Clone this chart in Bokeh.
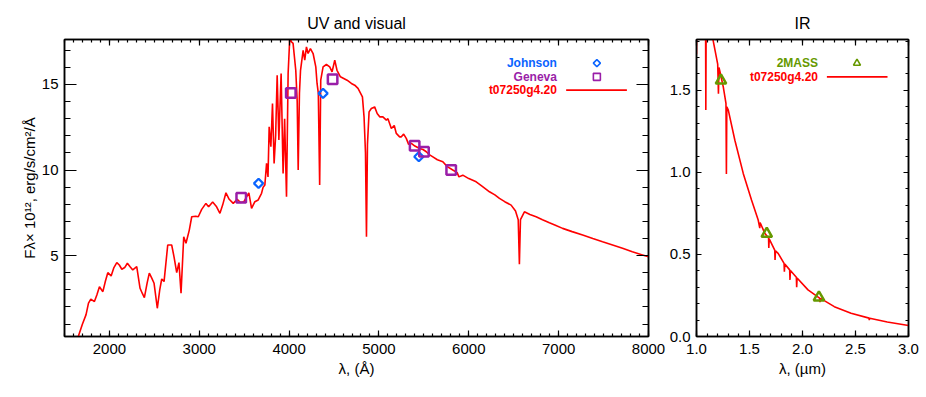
import numpy as np
from bokeh.plotting import figure
from bokeh.layouts import row
from bokeh.models import Range1d, LinearAxis, SingleIntervalTicker, PrintfTickFormatter, Label
from bokeh.embed import file_html
from bokeh.resources import INLINE

# ---------------- data ----------------
uv_wave = [1630, 1700, 1740, 1767, 1793, 1833, 1860, 1889, 1927, 1955, 1982, 2019, 2050, 2082,
           2110, 2138, 2170, 2200, 2230, 2260, 2304, 2341, 2365, 2389, 2420, 2444, 2470, 2497,
           2533, 2560, 2582, 2608, 2649, 2693, 2720, 2749, 2774, 2797, 2827, 2852, 2889, 2916,
           2960, 2989, 3027, 3074, 3104, 3149, 3193, 3230, 3260, 3297, 3333, 3378, 3422, 3460,
           3497, 3552, 3582, 3619, 3656, 3693, 3711, 3730, 3749, 3765, 3778, 3797, 3815, 3833,
           3850, 3867, 3886, 3911, 3933, 3950, 3971, 3989, 4008, 4025, 4044, 4074, 4090, 4101,
           4115, 4127, 4156, 4174, 4193, 4211, 4237, 4267, 4297, 4311, 4325, 4340, 4352, 4378,
           4415, 4452, 4478, 4508, 4533, 4571, 4608, 4645, 4693, 4730, 4767, 4816, 4834, 4850,
           4861, 4872, 4890, 4915, 4952, 4980, 5008, 5044, 5082, 5100, 5138, 5170, 5193, 5230,
           5249, 5275, 5304, 5330, 5360, 5400, 5452, 5490, 5527, 5560, 5600, 5650, 5711, 5760,
           5822, 5870, 5890, 5933, 6000, 6082, 6150, 6230, 6290, 6341, 6400, 6471, 6520, 6550,
           6563, 6575, 6619, 6680, 6749, 6820, 6897, 6970, 7044, 7150, 7267, 7380, 7489, 7600,
           7711, 7820, 7933, 8000]
uv_flux = [-0.1, 1.0, 1.55, 2.22, 2.45, 2.31, 2.70, 3.18, 2.89, 3.50, 4.00, 3.81, 4.30, 4.59,
           4.45, 4.20, 4.30, 4.55, 4.35, 4.16, 4.35, 3.09, 2.80, 2.54, 3.40, 3.97, 3.70, 3.38,
           1.92, 3.00, 3.63, 3.48, 5.62, 5.62, 4.90, 4.00, 4.59, 2.80, 6.10, 5.72, 6.49, 7.27,
           7.30, 7.27, 7.70, 8.05, 7.85, 8.13, 7.85, 7.47, 7.95, 8.67, 8.29, 8.05, 8.29, 8.10,
           8.15, 8.67, 7.76, 8.15, 8.25, 8.64, 9.00, 9.12, 10.39, 9.60, 12.53, 11.36, 13.89, 10.39,
           12.00, 15.54, 11.75, 15.64, 9.80, 13.00, 8.44, 15.64, 17.80, 17.50, 17.40, 15.83, 14.00, 10.00,
           14.50, 15.83, 17.00, 16.42, 17.20, 16.81, 17.10, 16.81, 16.03, 15.06, 14.50, 9.12, 15.25, 16.03,
           16.17, 16.03, 15.74, 16.42, 15.83, 15.45, 15.35, 15.25, 15.06, 14.96, 14.77, 14.28, 13.11, 11.00,
           6.10, 11.50, 13.40, 13.60, 13.69, 13.30, 13.11, 13.11, 12.92, 13.00, 12.43, 12.60, 12.14, 11.94,
           11.94, 12.10, 11.85, 11.50, 11.56, 11.40, 11.26, 11.20, 11.07, 10.90, 10.77, 10.60, 10.48, 10.20,
           10.00, 9.85, 9.60, 9.70, 9.50, 9.31, 9.05, 8.73, 8.55, 8.34, 8.15, 7.95, 7.60, 7.10,
           4.50, 7.10, 7.56, 7.40, 7.27, 7.10, 6.92, 6.76, 6.59, 6.40, 6.20, 6.00, 5.81, 5.62,
           5.43, 5.22, 5.04, 4.93]

ir_wave = [1.000, 1.003, 1.085, 1.088, 1.092, 1.140, 1.175, 1.200, 1.207, 1.212, 1.222, 1.253,
           1.278, 1.282, 1.286, 1.300, 1.362, 1.441, 1.519, 1.582, 1.597, 1.600, 1.644, 1.680,
           1.682, 1.686, 1.738, 1.741, 1.745, 1.770, 1.826, 1.829, 1.833, 1.879, 1.882, 1.886,
           1.942, 1.945, 1.949, 2.052, 2.161, 2.165, 2.170, 2.300, 2.458, 2.628, 2.630, 2.634,
           2.800, 3.000]
ir_flux = [1.72, 2.10, 2.05, 1.38, 2.05, 1.86, 1.744, 1.66, 1.48, 1.64, 1.612, 1.52,
           1.42, 0.99, 1.40, 1.38, 1.196, 0.994, 0.832, 0.710, 0.660, 0.695, 0.629, 0.600,
           0.540, 0.595, 0.527, 0.467, 0.522, 0.507, 0.446, 0.395, 0.442, 0.406, 0.345, 0.402,
           0.361, 0.300, 0.357, 0.284, 0.234, 0.210, 0.232, 0.182, 0.142, 0.112, 0.100, 0.111,
           0.088, 0.067]

johnson_wave = [3660, 4378, 5444]
johnson_flux = [9.22, 14.48, 10.78]
geneva_wave = [3467, 4019, 4484, 5397, 5501, 5804]
geneva_flux = [8.38, 14.50, 15.31, 11.42, 11.07, 10.00]
twomass_wave = [1.231, 1.663, 2.155]
twomass_flux = [1.56, 0.626, 0.238]

model_name = "t07250g4.20"

# ---------------- style ----------------
FONT = "Liberation Sans"
RED = "#ff0000"
BLUE = "#0a64ff"
PURPLE = "#9a1ea8"
GREEN = "#669900"

UV_X = (1500, 8000)
UV_Y = (0.27, 17.63)
IR_X = (1.0, 3.0)
IR_Y = (0.0, 1.81)

FIG_H = 390
BORDER_TOP = 39
BORDER_BOTTOM = FIG_H - BORDER_TOP - 297


def tick_style(ax, tl):
    ax.major_tick_in = tl[0]
    ax.major_tick_out = 0
    ax.minor_tick_in = tl[1]
    ax.minor_tick_out = 0
    ax.axis_line_width = 1.5
    ax.major_tick_line_width = 1.2
    ax.minor_tick_line_width = 1.2


def style_axes(p, xint, xminor, yint, yminor, xfmt, yfmt, xtick, ytick):
    p.xgrid.visible = False
    p.ygrid.visible = False
    p.outline_line_color = "black"
    p.outline_line_width = 1.5
    bottom = p.below[0]
    left = p.left[0]
    for ax, interval, nminor, fmt, tl in ((bottom, xint, xminor, xfmt, xtick),
                                           (left, yint, yminor, yfmt, ytick)):
        ax.ticker = SingleIntervalTicker(interval=interval, num_minor_ticks=nminor)
        if fmt:
            ax.formatter = PrintfTickFormatter(format=fmt)
        tick_style(ax, tl)
        ax.major_label_text_font = FONT
        ax.major_label_text_font_size = "15px"
        ax.major_label_text_color = "black"
        ax.axis_label_text_font = FONT
        ax.axis_label_text_font_size = "15px"
        ax.axis_label_text_font_style = "normal"
        ax.axis_label_text_color = "black"
    bottom.major_label_standoff = 7
    bottom.axis_label_standoff = 3
    left.major_label_standoff = 6
    left.axis_label_standoff = 1
    for side, interval, nminor, tl in (("above", xint, xminor, xtick),
                                       ("right", yint, yminor, ytick)):
        ax = LinearAxis(ticker=SingleIntervalTicker(interval=interval, num_minor_ticks=nminor))
        ax.major_label_text_font_size = "1px"
        ax.major_label_text_color = None
        ax.major_label_standoff = 0
        tick_style(ax, tl)
        p.add_layout(ax, side)
    p.title.align = "center"
    p.title.text_font = FONT
    p.title.text_font_size = "16px"
    p.title.text_font_style = "normal"
    p.title.text_color = "black"
    p.title.standoff = 15
    return bottom, left


def legend_text(p, xr, yr, fx, ftop, text, color):
    x = xr[0] + fx * (xr[1] - xr[0])
    y = yr[1] - ftop * (yr[1] - yr[0])
    p.add_layout(Label(x=x, y=y, text=text, text_align="right", text_baseline="middle",
                       text_font=FONT, text_font_size="12px", text_font_style="bold",
                       text_color=color))


def frac_pt(xr, yr, fx, ftop):
    return xr[0] + fx * (xr[1] - xr[0]), yr[1] - ftop * (yr[1] - yr[0])


# ---------------- left panel ----------------
p1 = figure(width=666, height=FIG_H, output_backend="svg", toolbar_location=None,
            x_range=Range1d(*UV_X), y_range=Range1d(*UV_Y),
            min_border_left=64, min_border_right=18, min_border_top=BORDER_TOP,
            min_border_bottom=BORDER_BOTTOM, title="UV and visual")
b1, l1 = style_axes(p1, 1000, 10, 5, 5, None, None, (6, 3), (12, 6))
b1.axis_label = "λ, (Å)"
l1.axis_label = "Fλ× 10¹², erg/s/cm²/Å"

p1.line(uv_wave, uv_flux, line_color=RED, line_width=1.6)
p1.scatter(johnson_wave, johnson_flux, marker="square", angle=np.pi / 4, size=6.5,
           fill_color=None, line_color=BLUE, line_width=2.2)
p1.scatter(geneva_wave, geneva_flux, marker="square", size=9.5,
           fill_color=None, line_color=PURPLE, line_width=2.5)

rows = [0.0797, 0.1258, 0.1705]
legend_text(p1, UV_X, UV_Y, 0.8432, rows[0], "Johnson", BLUE)
legend_text(p1, UV_X, UV_Y, 0.8432, rows[1], "Geneva", PURPLE)
legend_text(p1, UV_X, UV_Y, 0.8432, rows[2], model_name, RED)
lx, ly = frac_pt(UV_X, UV_Y, 0.9116, rows[0])
p1.scatter([lx], [ly], marker="square", angle=np.pi / 4, size=5, fill_color=None,
           line_color=BLUE, line_width=1.6)
lx, ly = frac_pt(UV_X, UV_Y, 0.9116, rows[1])
p1.scatter([lx], [ly], marker="square", size=7, fill_color=None,
           line_color=PURPLE, line_width=1.6)
ax0, ly = frac_pt(UV_X, UV_Y, 0.859, rows[2])
ax1, _ = frac_pt(UV_X, UV_Y, 0.963, rows[2])
p1.line([ax0, ax1], [ly, ly], line_color=RED, line_width=1.6)

# ---------------- right panel ----------------
p2 = figure(width=260, height=FIG_H, output_backend="svg", toolbar_location=None,
            x_range=Range1d(*IR_X), y_range=Range1d(*IR_Y),
            min_border_left=29, min_border_right=18, min_border_top=BORDER_TOP,
            min_border_bottom=BORDER_BOTTOM, title="IR")
b2, l2 = style_axes(p2, 0.5, 5, 0.5, 5, "%.1f", "%.1f", (6, 3), (5, 3))
b2.axis_label = "λ, (µm)"

p2.line(ir_wave, ir_flux, line_color=RED, line_width=1.6)
p2.scatter(twomass_wave, twomass_flux, marker="triangle", size=10.5,
           fill_color=None, line_color=GREEN, line_width=2.5)

legend_text(p2, IR_X, IR_Y, 0.573, rows[0], "2MASS", GREEN)
legend_text(p2, IR_X, IR_Y, 0.573, rows[1], model_name, RED)
lx, ly = frac_pt(IR_X, IR_Y, 0.757, rows[0])
p2.scatter([lx], [ly], marker="triangle", size=7, fill_color=None,
           line_color=GREEN, line_width=1.6)
bx0, ly = frac_pt(IR_X, IR_Y, 0.615, rows[1])
bx1, _ = frac_pt(IR_X, IR_Y, 0.901, rows[1])
p2.line([bx0, bx1], [ly, ly], line_color=RED, line_width=1.6)

layout = row(p1, p2)
open("out.html", "w").write(file_html(layout, INLINE))
